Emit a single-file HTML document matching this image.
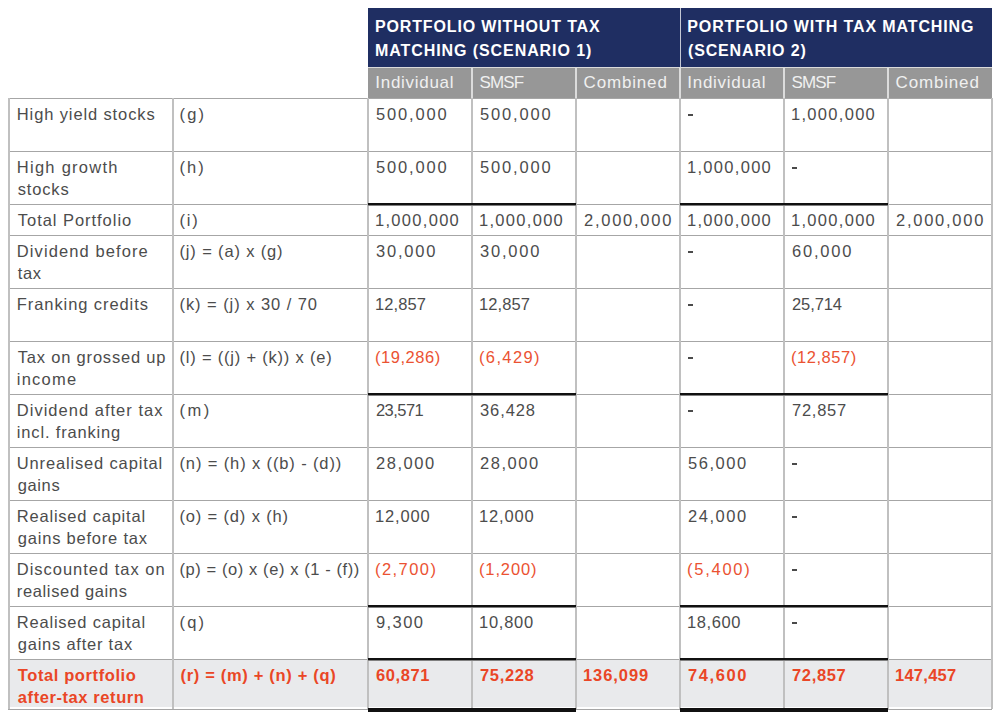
<!DOCTYPE html><html><head><meta charset="utf-8"><style>
html,body{margin:0;padding:0;background:#fff;width:1002px;height:720px;overflow:hidden;position:relative}
div{position:absolute}
.t{font:16.5px "Liberation Sans", sans-serif;line-height:22px;color:#4c4c4c;white-space:nowrap}
.r{color:#eb5232}
.b{font-weight:bold;color:#ea4626}
.h{font:bold 16px "Liberation Sans", sans-serif;line-height:23.5px;color:#fff;white-space:nowrap}
.g{font:17px "Liberation Sans", sans-serif;line-height:30px;color:#f0f0f0;white-space:nowrap}
.l{background:#a6a6a6}
.v{background:#c0c0c0}
.k{background:#111}
.k2{background:#808080}

</style></head><body>
<div style="left:368px;top:8px;width:624px;height:59px;background:#1f2e62"></div>
<div style="left:368px;top:67px;width:624px;height:1px;background:#dadada"></div>
<div style="left:679.5px;top:8px;width:1.5px;height:59px;background:#c4c8d4"></div>
<div class="h" style="left:375.00px;top:15px;letter-spacing:0.850px">PORTFOLIO WITHOUT TAX</div>
<div class="h" style="left:375.00px;top:38.5px;letter-spacing:0.920px">MATCHING (SCENARIO 1)</div>
<div class="h" style="left:687.30px;top:15px;letter-spacing:0.876px">PORTFOLIO WITH TAX MATCHING</div>
<div class="h" style="left:688.00px;top:38.5px;letter-spacing:0.843px">(SCENARIO 2)</div>
<div style="left:368px;top:68px;width:624px;height:30px;background:#979797"></div>
<div style="left:471px;top:68px;width:2px;height:30px;background:#dcdcdc"></div>
<div style="left:575px;top:68px;width:2px;height:30px;background:#dcdcdc"></div>
<div style="left:679px;top:68px;width:2px;height:30px;background:#dcdcdc"></div>
<div style="left:783px;top:68px;width:2px;height:30px;background:#dcdcdc"></div>
<div style="left:887px;top:68px;width:2px;height:30px;background:#dcdcdc"></div>
<div class="g" style="left:375.30px;top:68px;letter-spacing:0.706px">Individual</div>
<div class="g" style="left:479.50px;top:68px;letter-spacing:-0.846px">SMSF</div>
<div class="g" style="left:583.60px;top:68px;letter-spacing:0.824px">Combined</div>
<div class="g" style="left:687.30px;top:68px;letter-spacing:0.706px">Individual</div>
<div class="g" style="left:791.50px;top:68px;letter-spacing:-0.846px">SMSF</div>
<div class="g" style="left:895.60px;top:68px;letter-spacing:0.824px">Combined</div>
<div style="left:9px;top:660px;width:982px;height:47px;background:#e9eaec"></div>
<div class="l" style="left:8px;top:97.5px;width:984px;height:1.5px"></div>
<div class="l" style="left:8px;top:150.5px;width:984px;height:1.5px"></div>
<div class="l" style="left:8px;top:203.5px;width:984px;height:1.5px"></div>
<div class="l" style="left:8px;top:234.5px;width:984px;height:1.5px"></div>
<div class="l" style="left:8px;top:287.5px;width:984px;height:1.5px"></div>
<div class="l" style="left:8px;top:340.5px;width:984px;height:1.5px"></div>
<div class="l" style="left:8px;top:393.5px;width:984px;height:1.5px"></div>
<div class="l" style="left:8px;top:446.5px;width:984px;height:1.5px"></div>
<div class="l" style="left:8px;top:499.5px;width:984px;height:1.5px"></div>
<div class="l" style="left:8px;top:552.5px;width:984px;height:1.5px"></div>
<div class="l" style="left:8px;top:605.5px;width:984px;height:1.5px"></div>
<div class="l" style="left:8px;top:658.5px;width:984px;height:1.5px"></div>
<div class="l" style="left:8px;top:708.5px;width:984px;height:1.5px"></div>
<div class="v" style="left:7.5px;top:98px;width:2px;height:611px"></div>
<div class="v" style="left:171.5px;top:98px;width:2px;height:611px"></div>
<div class="v" style="left:366.5px;top:98px;width:2px;height:611px"></div>
<div class="v" style="left:471px;top:98px;width:2px;height:611px"></div>
<div class="v" style="left:575px;top:98px;width:2px;height:611px"></div>
<div class="v" style="left:679px;top:98px;width:2px;height:611px"></div>
<div class="v" style="left:783px;top:98px;width:2px;height:611px"></div>
<div class="v" style="left:887px;top:98px;width:2px;height:611px"></div>
<div class="v" style="left:990.5px;top:98px;width:2px;height:611px"></div>
<div class="k" style="left:368px;top:203px;width:208px;height:2px"></div>
<div class="k2" style="left:368px;top:205px;width:208px;height:1px"></div>
<div class="k" style="left:680px;top:203px;width:208px;height:2px"></div>
<div class="k2" style="left:680px;top:205px;width:208px;height:1px"></div>
<div class="k" style="left:368px;top:393px;width:208px;height:2px"></div>
<div class="k2" style="left:368px;top:395px;width:208px;height:1px"></div>
<div class="k" style="left:680px;top:393px;width:208px;height:2px"></div>
<div class="k2" style="left:680px;top:395px;width:208px;height:1px"></div>
<div class="k" style="left:368px;top:605px;width:208px;height:2px"></div>
<div class="k2" style="left:368px;top:607px;width:208px;height:1px"></div>
<div class="k" style="left:680px;top:605px;width:208px;height:2px"></div>
<div class="k2" style="left:680px;top:607px;width:208px;height:1px"></div>
<div class="k" style="left:368px;top:658px;width:208px;height:2px"></div>
<div class="k2" style="left:368px;top:660px;width:208px;height:1px"></div>
<div class="k" style="left:680px;top:658px;width:208px;height:2px"></div>
<div class="k2" style="left:680px;top:660px;width:208px;height:1px"></div>
<div class="k" style="left:368px;top:708px;width:208px;height:4px"></div>
<div class="k" style="left:680px;top:708px;width:208px;height:4px"></div>
<div class="t" style="left:16.80px;top:103px;letter-spacing:0.878px">High yield stocks</div>
<div class="t" style="left:179.50px;top:103px;letter-spacing:2.164px">(g)</div>
<div class="t" style="left:376.00px;top:103px;letter-spacing:1.822px">500,000</div>
<div class="t" style="left:480.00px;top:103px;letter-spacing:1.822px">500,000</div>
<div style="left:688px;top:113.5px;width:5px;height:2px;background:#4a4a4a"></div>
<div class="t" style="left:791.00px;top:103px;letter-spacing:1.297px">1,000,000</div>
<div class="t" style="left:16.80px;top:156px;letter-spacing:1.263px">High growth</div>
<div class="t" style="left:17.80px;top:178px;letter-spacing:0.818px">stocks</div>
<div class="t" style="left:179.50px;top:156px;letter-spacing:2.014px">(h)</div>
<div class="t" style="left:376.00px;top:156px;letter-spacing:1.822px">500,000</div>
<div class="t" style="left:480.00px;top:156px;letter-spacing:1.822px">500,000</div>
<div class="t" style="left:687.00px;top:156px;letter-spacing:1.297px">1,000,000</div>
<div style="left:792px;top:166.5px;width:5px;height:2px;background:#4a4a4a"></div>
<div class="t" style="left:17.80px;top:209px;letter-spacing:0.958px">Total Portfolio</div>
<div class="t" style="left:179.50px;top:209px;letter-spacing:1.820px">(i)</div>
<div class="t" style="left:375.00px;top:209px;letter-spacing:1.297px">1,000,000</div>
<div class="t" style="left:479.00px;top:209px;letter-spacing:1.297px">1,000,000</div>
<div class="t" style="left:584.00px;top:209px;letter-spacing:1.747px">2,000,000</div>
<div class="t" style="left:687.00px;top:209px;letter-spacing:1.297px">1,000,000</div>
<div class="t" style="left:791.00px;top:209px;letter-spacing:1.297px">1,000,000</div>
<div class="t" style="left:896.00px;top:209px;letter-spacing:1.747px">2,000,000</div>
<div class="t" style="left:16.80px;top:240px;letter-spacing:1.093px">Dividend before</div>
<div class="t" style="left:17.80px;top:262px;letter-spacing:0.570px">tax</div>
<div class="t" style="left:179.50px;top:240px;letter-spacing:0.849px">(j) = (a) x (g)</div>
<div class="t" style="left:376.00px;top:240px;letter-spacing:1.782px">30,000</div>
<div class="t" style="left:480.00px;top:240px;letter-spacing:1.782px">30,000</div>
<div style="left:688px;top:250.5px;width:5px;height:2px;background:#4a4a4a"></div>
<div class="t" style="left:792.00px;top:240px;letter-spacing:1.782px">60,000</div>
<div class="t" style="left:16.80px;top:293px;letter-spacing:0.918px">Franking credits</div>
<div class="t" style="left:179.50px;top:293px;letter-spacing:0.939px">(k) = (j) x 30 / 70</div>
<div class="t" style="left:375.00px;top:293px;letter-spacing:0.102px">12,857</div>
<div class="t" style="left:479.00px;top:293px;letter-spacing:0.102px">12,857</div>
<div style="left:688px;top:303.5px;width:5px;height:2px;background:#4a4a4a"></div>
<div class="t" style="left:792.00px;top:293px;letter-spacing:-0.098px">25,714</div>
<div class="t" style="left:17.80px;top:346px;letter-spacing:0.803px">Tax on grossed up</div>
<div class="t" style="left:16.80px;top:368px;letter-spacing:1.237px">income</div>
<div class="t" style="left:179.50px;top:346px;letter-spacing:0.794px">(l) = ((j) + (k)) x (e)</div>
<div class="t r" style="left:375.00px;top:346px;letter-spacing:0.534px">(19,286)</div>
<div class="t r" style="left:479.00px;top:346px;letter-spacing:1.369px">(6,429)</div>
<div style="left:688px;top:356.5px;width:5px;height:2px;background:#4a4a4a"></div>
<div class="t r" style="left:791.00px;top:346px;letter-spacing:0.534px">(12,857)</div>
<div class="t" style="left:16.80px;top:399px;letter-spacing:1.015px">Dividend after tax</div>
<div class="t" style="left:16.80px;top:421px;letter-spacing:0.835px">incl. franking</div>
<div class="t" style="left:179.50px;top:399px;letter-spacing:2.530px">(m)</div>
<div class="t" style="left:376.00px;top:399px;letter-spacing:-0.558px">23,571</div>
<div class="t" style="left:480.00px;top:399px;letter-spacing:0.902px">36,428</div>
<div style="left:688px;top:409.5px;width:5px;height:2px;background:#4a4a4a"></div>
<div class="t" style="left:792.00px;top:399px;letter-spacing:0.742px">72,857</div>
<div class="t" style="left:16.80px;top:452px;letter-spacing:0.842px">Unrealised capital</div>
<div class="t" style="left:17.80px;top:474px;letter-spacing:0.601px">gains</div>
<div class="t" style="left:179.50px;top:452px;letter-spacing:0.875px">(n) = (h) x ((b) - (d))</div>
<div class="t" style="left:376.00px;top:452px;letter-spacing:1.522px">28,000</div>
<div class="t" style="left:480.00px;top:452px;letter-spacing:1.522px">28,000</div>
<div class="t" style="left:688.00px;top:452px;letter-spacing:1.522px">56,000</div>
<div style="left:792px;top:462.5px;width:5px;height:2px;background:#4a4a4a"></div>
<div class="t" style="left:16.80px;top:505px;letter-spacing:0.786px">Realised capital</div>
<div class="t" style="left:17.80px;top:527px;letter-spacing:0.789px">gains before tax</div>
<div class="t" style="left:179.50px;top:505px;letter-spacing:0.841px">(o) = (d) x (h)</div>
<div class="t" style="left:375.00px;top:505px;letter-spacing:0.842px">12,000</div>
<div class="t" style="left:479.00px;top:505px;letter-spacing:0.842px">12,000</div>
<div class="t" style="left:688.00px;top:505px;letter-spacing:1.522px">24,000</div>
<div style="left:792px;top:515.5px;width:5px;height:2px;background:#4a4a4a"></div>
<div class="t" style="left:16.80px;top:558px;letter-spacing:0.981px">Discounted tax on</div>
<div class="t" style="left:16.80px;top:580px;letter-spacing:0.641px">realised gains</div>
<div class="t" style="left:179.50px;top:558px;letter-spacing:0.583px">(p) = (o) x (e) x (1 - (f))</div>
<div class="t r" style="left:375.00px;top:558px;letter-spacing:1.436px">(2,700)</div>
<div class="t r" style="left:479.00px;top:558px;letter-spacing:0.869px">(1,200)</div>
<div class="t r" style="left:687.00px;top:558px;letter-spacing:1.753px">(5,400)</div>
<div style="left:792px;top:568.5px;width:5px;height:2px;background:#4a4a4a"></div>
<div class="t" style="left:16.80px;top:611px;letter-spacing:0.786px">Realised capital</div>
<div class="t" style="left:17.80px;top:633px;letter-spacing:0.765px">gains after tax</div>
<div class="t" style="left:179.50px;top:611px;letter-spacing:2.164px">(q)</div>
<div class="t" style="left:376.00px;top:611px;letter-spacing:1.397px">9,300</div>
<div class="t" style="left:479.00px;top:611px;letter-spacing:0.742px">10,800</div>
<div class="t" style="left:687.00px;top:611px;letter-spacing:0.582px">18,600</div>
<div style="left:792px;top:621.5px;width:5px;height:2px;background:#4a4a4a"></div>
<div class="t b" style="left:17.80px;top:664px;letter-spacing:0.601px">Total portfolio</div>
<div class="t b" style="left:17.80px;top:686px;letter-spacing:0.581px">after-tax return</div>
<div class="t b" style="left:180.50px;top:664px;letter-spacing:0.679px">(r) = (m) + (n) + (q)</div>
<div class="t b" style="left:376.00px;top:664px;letter-spacing:0.602px">60,871</div>
<div class="t b" style="left:480.00px;top:664px;letter-spacing:0.662px">75,228</div>
<div class="t b" style="left:583.00px;top:664px;letter-spacing:0.922px">136,099</div>
<div class="t b" style="left:688.00px;top:664px;letter-spacing:1.582px">74,600</div>
<div class="t b" style="left:792.00px;top:664px;letter-spacing:0.662px">72,857</div>
<div class="t b" style="left:895.00px;top:664px;letter-spacing:0.256px">147,457</div>
</body></html>
